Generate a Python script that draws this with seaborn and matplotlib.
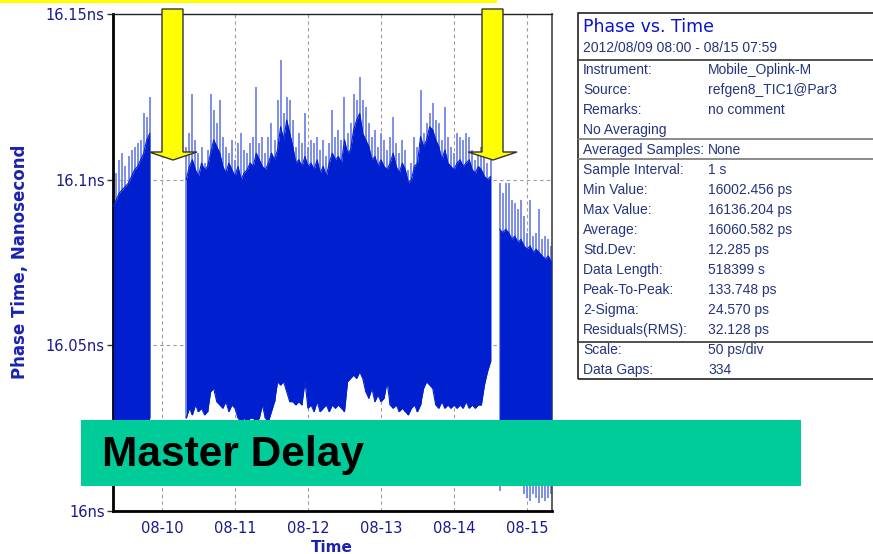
import numpy as np
import pandas as pd
import matplotlib
matplotlib.use("Agg")
import matplotlib.pyplot as plt
import matplotlib.dates as mdates
from matplotlib.patches import Rectangle, Polygon
from matplotlib.lines import Line2D
import seaborn as sns

# ---------------- data (phase offsets in ps above 16 ns, hourly envelope) -------------
seg1_start = "2012-08-09 08:00"
seg1_upper_peak = [100, 102, 106, 108, 104, 107, 109, 110, 111, 112, 120, 119, 125]
seg1_upper_band = [92, 94, 96, 97, 98, 99, 101, 103, 104, 106, 108, 112, 114]
seg1_lower_band = [24, 27, 25, 26, 24, 27, 25, 26, 24, 25, 27, 26, 28]
seg1_lower_peak = [24, 27, 25, 26, 24, 27, 25, 26, 24, 25, 27, 26, 28]

seg2_start = "2012-08-10 08:00"
seg2_upper_peak = [110, 114, 126, 112, 108, 110, 105, 109, 126, 121,
                   117, 124, 113, 110, 108, 112, 106, 111, 114, 109,
                   108, 111, 113, 128, 111, 113, 108, 113, 117, 112,
                   124, 136, 120, 125, 124, 118, 110, 114, 111, 120,
                   110, 112, 111, 113, 109, 112, 107, 111, 121, 113,
                   115, 112, 125, 114, 117, 126, 124, 131, 124, 122,
                   117, 113, 115, 110, 114, 112, 109, 113, 119, 111,
                   108, 112, 109, 103, 105, 113, 110, 127, 114, 117,
                   120, 123, 118, 117, 112, 122, 113, 110, 108, 114,
                   113, 112, 114, 113, 109, 106, 108, 110, 107, 105, 106]
seg2_upper_band = [100, 104, 106, 103, 101, 105, 103, 104, 108, 112,
                   110, 108, 104, 102, 105, 103, 101, 104, 100, 102,
                   103, 105, 104, 108, 106, 104, 103, 105, 108, 106,
                   109, 116, 112, 118, 114, 110, 105, 106, 104, 107,
                   104, 105, 103, 106, 102, 104, 101, 105, 108, 106,
                   107, 105, 112, 108, 109, 115, 118, 120, 114, 112,
                   110, 106, 107, 104, 106, 104, 103, 105, 108, 104,
                   102, 105, 103, 99, 100, 104, 105, 113, 110, 112,
                   116, 115, 112, 110, 106, 109, 105, 104, 103, 105,
                   106, 104, 105, 106, 103, 102, 104, 103, 101, 100, 101]
seg2_lower_band = [28, 31, 29, 32, 30, 31, 29, 30, 36, 37,
                   33, 32, 31, 33, 30, 32, 31, 28, 27, 28,
                   27, 28, 28, 27, 28, 32, 28, 27, 30, 33,
                   39, 38, 39, 36, 33, 33, 32, 33, 32, 39,
                   31, 32, 30, 33, 30, 31, 32, 30, 32, 31,
                   32, 31, 30, 39, 40, 41, 40, 42, 40, 36,
                   34, 37, 33, 35, 33, 34, 39, 32, 31, 32,
                   30, 31, 30, 29, 31, 32, 30, 32, 37, 39,
                   38, 37, 32, 31, 33, 31, 32, 31, 32, 31,
                   32, 31, 33, 31, 32, 31, 32, 32, 38, 42, 45]
seg2_lower_peak = seg2_lower_band

seg3_start = "2012-08-14 15:00"
seg3_upper_peak = [99, 96, 99, 99, 94, 93, 91, 94, 89, 84, 94, 83, 84, 91, 82, 83, 82, 80]
seg3_upper_band = [85, 84, 85, 84, 82, 83, 81, 82, 80, 79, 80, 78, 79, 78, 77, 76, 77, 75]
seg3_lower_band = [16, 18, 17, 19, 16, 18, 17, 15, 12, 10, 9, 10, 9, 8, 10, 9, 8, 9]
seg3_lower_peak = [6, 17, 16, 18, 15, 17, 16, 12, 5, 4, 3, 5, 4, 2.5, 4, 3, 4, 5]

y_ticks = [16.0, 16.05, 16.1, 16.15]
y_tick_labels = ["16ns", "16.05ns", "16.1ns", "16.15ns"]
x_ticks = ["2012-08-10", "2012-08-11", "2012-08-12", "2012-08-13", "2012-08-14", "2012-08-15"]

info_title = "Phase vs. Time"
info_period = "2012/08/09 08:00 - 08/15 07:59"
info_rows = [
    ("Instrument:", "Mobile_Oplink-M"),
    ("Source:", "refgen8_TIC1@Par3"),
    ("Remarks:", "no comment"),
    ("No Averaging", ""),
    ("Averaged Samples:", "None"),
    ("Sample Interval:", "1 s"),
    ("Min Value:", "16002.456 ps"),
    ("Max Value:", "16136.204 ps"),
    ("Average:", "16060.582 ps"),
    ("Std.Dev:", "12.285 ps"),
    ("Data Length:", "518399 s"),
    ("Peak-To-Peak:", "133.748 ps"),
    ("2-Sigma:", "24.570 ps"),
    ("Residuals(RMS):", "32.128 ps"),
    ("Scale:", "50 ps/div"),
    ("Data Gaps:", "334"),
]

# ---------------- styling ----------------
sns.set_theme(style="white")
plt.rcParams['font.family'] = ['DejaVu Sans']

BLUE = "#0020d0"
LIGHT = "#7486e6"
NAVY = "#1a1a8c"
TXT = "#24347e"

W, H = 873, 554
fig = plt.figure(figsize=(W / 100, H / 100), dpi=100)
fig.patch.set_facecolor("white")


def fx(x):
    return x / W


def fy(y):
    return 1 - y / H


ax = fig.add_axes([fx(113), fy(511), (552 - 113) / W, (511 - 14) / H])
ax.set_facecolor("white")

segments = [
    (seg1_start, seg1_upper_peak, seg1_upper_band, seg1_lower_band, seg1_lower_peak),
    (seg2_start, seg2_upper_peak, seg2_upper_band, seg2_lower_band, seg2_lower_peak),
    (seg3_start, seg3_upper_peak, seg3_upper_band, seg3_lower_band, seg3_lower_peak),
]

for start, up, ub, lb, lp in segments:
    df = pd.DataFrame({
        "time": pd.date_range(start, periods=len(up), freq="h"),
        "up": 16 + np.array(up, float) / 1000,
        "ub": 16 + np.array(ub, float) / 1000,
        "lb": 16 + np.array(lb, float) / 1000,
        "lp": 16 + np.array(lp, float) / 1000,
    })
    ax.vlines(df["time"], df["lp"], df["up"], color=LIGHT, lw=1.3, zorder=2)
    ax.fill_between(df["time"], df["lb"], df["ub"], color=BLUE, lw=0, zorder=3)
    sns.lineplot(data=df, x="time", y="ub", color=BLUE, lw=0.8, ax=ax, zorder=3)
    sns.lineplot(data=df, x="time", y="lb", color=BLUE, lw=0.8, ax=ax, zorder=3)

ax.set_xlim(pd.Timestamp("2012-08-09 07:54"), pd.Timestamp("2012-08-15 08:13"))
ax.set_ylim(16.0, 16.15)
ax.set_xticks([pd.Timestamp(t) for t in x_ticks])
ax.xaxis.set_major_formatter(mdates.DateFormatter("%m-%d"))
ax.set_yticks(y_ticks)
ax.set_yticklabels(y_tick_labels)
ax.set_xlabel("")
ax.set_ylabel("")
ax.grid(True, linestyle=(0, (3, 3)), color="#9a9a9a", lw=0.8)
ax.set_axisbelow(True)
ax.tick_params(axis="y", length=4, width=1, color="#333333", labelsize=10.5, labelcolor=NAVY, pad=2, left=True)
ax.tick_params(axis="x", length=0, labelsize=10.5, labelcolor=NAVY, pad=7, bottom=True)
for side in ["left", "bottom"]:
    ax.spines[side].set_color("black")
    ax.spines[side].set_linewidth(2)
ax.spines["top"].set_color("#222222")
ax.spines["top"].set_linewidth(1)
ax.spines["right"].set_color("#444444")
ax.spines["right"].set_linewidth(1.2)

fig.text(fx(20), fy(262), "Phase Time, Nanosecond", rotation=90, ha="center", va="center",
         fontsize=12, fontweight="bold", color="#1a22b0")
fig.text(fx(332), fy(547), "Time", ha="center", va="center",
         fontsize=11, fontweight="bold", color="#1a22b0")

# yellow strip on top
fig.add_artist(Rectangle((0, fy(3)), 497 / W, 3 / H, transform=fig.transFigure,
                         color="#ffff00", lw=0, zorder=5))

# arrows
def arrow(xl, xr, hl, hr, tipx):
    pts = [(xl, 9), (xr, 9), (xr, 152), (hr, 152), (tipx, 160), (hl, 152), (xl, 152)]
    fig.add_artist(Polygon([(fx(a), fy(b)) for a, b in pts], closed=True, transform=fig.transFigure,
                           facecolor="#ffff00", edgecolor="#333333", lw=1, zorder=6))


arrow(162, 183, 149, 197, 173)
arrow(482, 503, 468, 517, 493)

# info table
fig.add_artist(Rectangle((fx(578), fy(379)), (890 - 578) / W, (379 - 13) / H, transform=fig.transFigure,
                         fill=False, edgecolor="#222222", lw=1.2, zorder=5))
for yy, col in [(60, "#333333"), (139, "#777777"), (159, "#777777"), (342, "#333333")]:
    fig.add_artist(Line2D([fx(578), 1], [fy(yy), fy(yy)], transform=fig.transFigure,
                          color=col, lw=1.2, zorder=5))

fig.text(fx(583), fy(27), info_title, ha="left", va="center", fontsize=12.5,
         color="#0a14c8", family="DejaVu Sans")
fig.text(fx(583), fy(48), info_period, ha="left", va="center", fontsize=10,
         color=TXT, family="Liberation Sans")
for i, (lab, val) in enumerate(info_rows):
    yy = 70 + 20 * i
    fig.text(fx(583), fy(yy), lab, ha="left", va="center", fontsize=10, color=TXT, family="Liberation Sans")
    if val:
        fig.text(fx(708), fy(yy), val, ha="left", va="center", fontsize=10, color=TXT, family="Liberation Sans")

# green banner
fig.add_artist(Rectangle((fx(81), fy(486)), (801 - 81) / W, (486 - 420) / H, transform=fig.transFigure,
                         color="#00cc99", lw=0, zorder=8))
fig.text(fx(102), fy(466), "Master Delay", ha="left", va="baseline", fontsize=30.5, fontweight="bold",
         color="black", family="Liberation Sans", zorder=9)

fig.savefig("out.png", dpi=100)
